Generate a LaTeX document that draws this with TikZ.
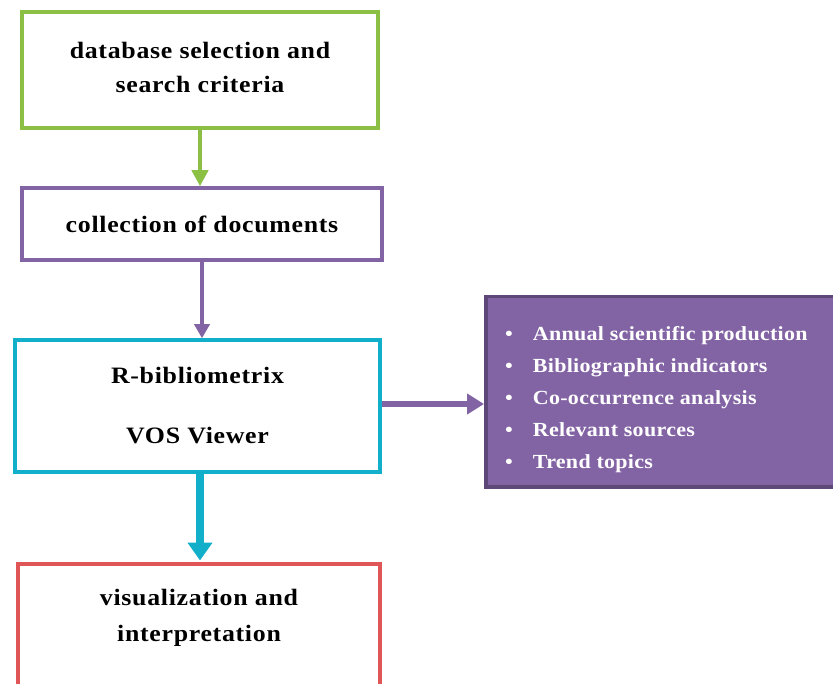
\documentclass[tikz,border=0pt]{standalone}
\usepackage{fontspec}
\setmainfont{Liberation Serif}
\newfontfamily\boxfont[FakeStretch=1.1,LetterSpace=3]{Liberation Serif}
\newfontfamily\listfont[FakeStretch=1.1,LetterSpace=1.5]{Liberation Serif}
\usetikzlibrary{arrows.meta}
\definecolor{cgreen}{HTML}{8CC044}
\definecolor{cpurple}{HTML}{8264A4}
\definecolor{cpurpledark}{HTML}{5E4878}
\definecolor{ccyan}{HTML}{12AFCA}
\definecolor{cred}{HTML}{E05555}
\begin{document}
\begin{tikzpicture}[x=1pt,y=-1pt,
  txt/.style={font=\boxfont\fontsize{23.5}{34}\selectfont\bfseries, align=center},
  box/.style={draw, line width=3.5pt, fill=white, inner sep=0pt, txt},
  ]
\clip (0,0) rectangle (833,684);
\fill[white] (0,0) rectangle (833,684);
% boxes
\node[box, draw=cgreen, minimum width=356pt, minimum height=116pt] (db) at (200,70) {};
\node[txt] (dbt) at (200,67) {database selection and\\search criteria};
\node[box, draw=cpurple, minimum width=360pt, minimum height=72pt] (col) at (202,224)
  {collection of documents};
\node[box, draw=ccyan, minimum width=365pt, minimum height=132pt] (rb) at (197.5,406)
  {R-bibliometrix\\[26pt]VOS Viewer};
\node[box, draw=cred, minimum width=362pt, minimum height=200pt, anchor=north] (viz) at (199,562) {};
\node[txt, font=\boxfont\fontsize{23.5}{36}\selectfont\bfseries, anchor=north] (vizt) at (199,586)
  {visualization and\\interpretation};
\node[draw=cpurpledark, line width=3.5pt, fill=cpurple, anchor=north west, inner sep=0pt,
  minimum width=370pt, minimum height=190pt] (res) at (484,295) {};
\node[anchor=north west, text=white, font=\listfont\fontsize{20}{32}\selectfont\bfseries, inner sep=0pt]
  (list) at (505,318) {%
  \begin{tabular}{@{}l@{\hspace{20pt}}l@{}}
  \textbullet & Annual scientific production\\
  \textbullet & Bibliographic indicators\\
  \textbullet & Co-occurrence analysis\\
  \textbullet & Relevant sources\\
  \textbullet & Trend topics
  \end{tabular}};
% connectors
\draw[cgreen, line width=4pt, -{Triangle[length=16pt,width=16pt]}] (db.south) -- (db.south |- col.north);
\draw[cpurple, line width=4pt, -{Triangle[length=14pt,width=15pt]}] (col.south) -- (col.south |- rb.north);
\draw[ccyan, line width=8pt, -{Triangle[length=18pt,width=24pt]}] (200,472) -- (200,560.5);
\draw[cpurple, line width=6.5pt, -{Triangle[length=17pt,width=20pt]}] (rb.east |- 0,404) -- (res.west |- 0,404);
\end{tikzpicture}
\end{document}
